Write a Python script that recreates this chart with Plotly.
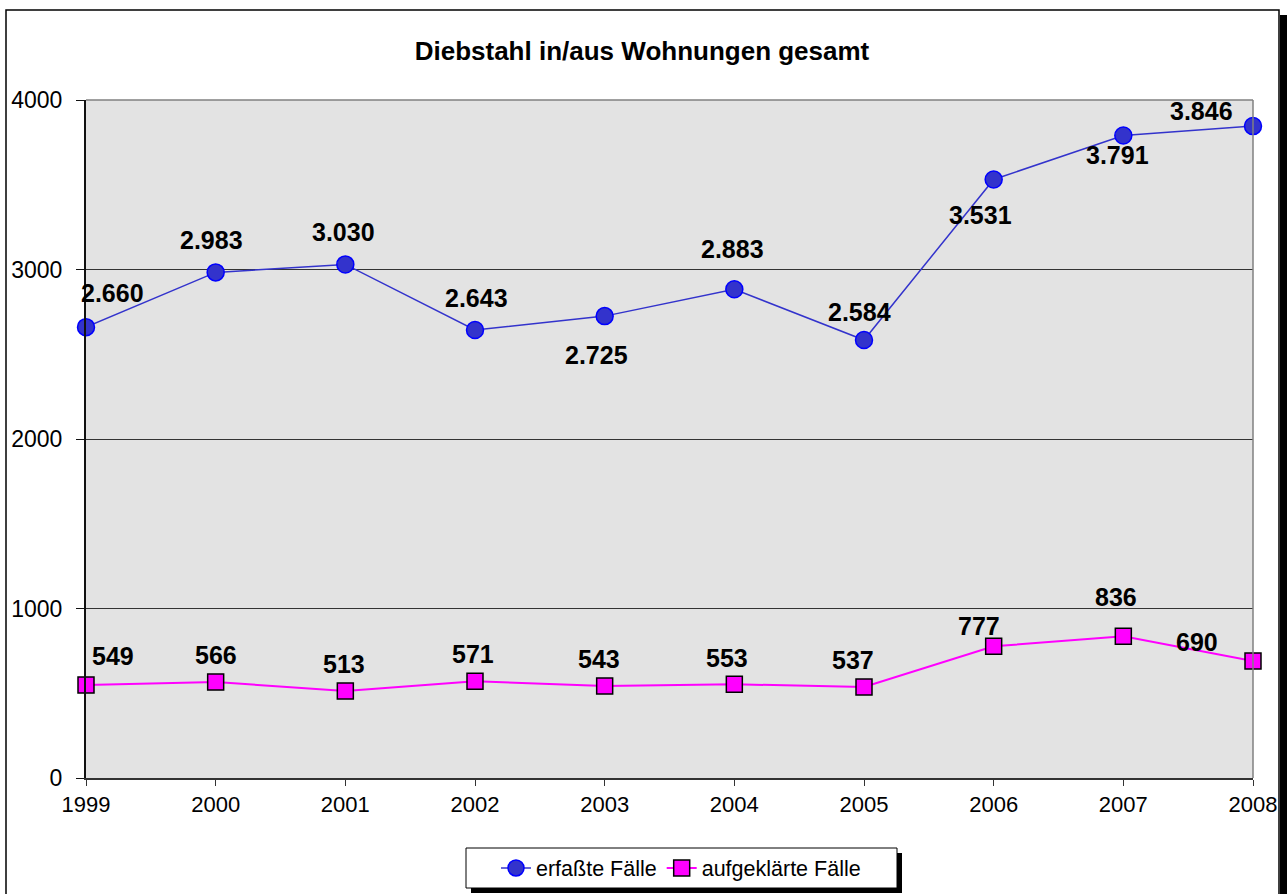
import plotly.graph_objects as go

years = [1999, 2000, 2001, 2002, 2003, 2004, 2005, 2006, 2007, 2008]
erfasst = [2660, 2983, 3030, 2643, 2725, 2883, 2584, 3531, 3791, 3846]
aufgeklaert = [549, 566, 513, 571, 543, 553, 537, 777, 836, 690]
y_ticks = [0, 1000, 2000, 3000, 4000]

# label offsets in pixels (x, y-up)
off_erf = [(26, 34), (-4, 32), (-2, 32), (1, 32), (-8, -39), (-2, 40), (-5, 28), (-13, -35), (-6, -20), (-52, 15)]
off_auf = [(27, 29), (0, 27), (-1, 27), (-2, 27), (-6, 27), (-7, 26), (-11, 27), (-15, 20), (-7, 39), (-56, 19)]

def fmt(v):
    return f"{v:,}".replace(",", ".")

W, H = 1287, 894
L, R, T, B = 86, 34, 100, 116
pw, ph = W - L - R, H - T - B

def px(x):
    return (x - L) / pw

def py(y):
    return (H - B - y) / ph

FONT = "Liberation Sans, Arial"

fig = go.Figure()
fig.add_trace(go.Scatter(
    x=years, y=erfasst, name="erfaßte Fälle", mode="lines+markers",
    line=dict(color="#3333CC", width=1.5),
    marker=dict(symbol="circle", size=17, color="#3333CC", line=dict(color="#0000FF", width=1.5)),
    cliponaxis=False))
fig.add_trace(go.Scatter(
    x=years, y=aufgeklaert, name="aufgeklärte Fälle", mode="lines+markers",
    line=dict(color="#FF00FF", width=2),
    marker=dict(symbol="square", size=16, color="#FF00FF", line=dict(color="#000000", width=1.5)),
    cliponaxis=False))

annotations = []
for series, offs in ((erfasst, off_erf), (aufgeklaert, off_auf)):
    for x, v, (dx, dy) in zip(years, series, offs):
        annotations.append(dict(x=x, y=v, text="<b>" + fmt(v) + "</b>", showarrow=False,
                                xshift=dx, yshift=dy,
                                font=dict(family=FONT, size=25, color="black"),
                                xanchor="center", yanchor="middle"))

shapes = [
    # outer frame
    dict(type="rect", xref="paper", yref="paper", x0=px(6), x1=px(1279), y0=py(910), y1=py(10),
         line=dict(color="black", width=1.5), fillcolor="rgba(0,0,0,0)", layer="below"),
    # frame shadow
    dict(type="rect", xref="paper", yref="paper", x0=px(1280), x1=px(1290), y0=py(910), y1=py(15),
         line=dict(width=0), fillcolor="black", layer="below"),
    # plot area border top/right
    dict(type="line", xref="paper", yref="paper", x0=0, x1=1, y0=1, y1=1, line=dict(color="#808080", width=1.5)),
    dict(type="line", xref="paper", yref="paper", x0=1, x1=1, y0=0, y1=1, line=dict(color="#808080", width=1.5)),
    # legend shadow and box
    dict(type="rect", xref="paper", yref="paper", x0=px(471), x1=px(902), y0=py(893), y1=py(853),
         line=dict(width=0), fillcolor="black", layer="below"),
    dict(type="rect", xref="paper", yref="paper", x0=px(466), x1=px(897), y0=py(888), y1=py(848),
         line=dict(color="black", width=1), fillcolor="white", layer="below"),
]

fig.update_layout(
    width=W, height=H,
    margin=dict(l=L, r=R, t=T, b=B, autoexpand=False),
    paper_bgcolor="white", plot_bgcolor="#E3E3E3",
    title=dict(text="<b>Diebstahl in/aus Wohnungen gesamt</b>", x=642 / W, xanchor="center",
               y=1 - 51 / H, yanchor="middle",
               font=dict(family=FONT, size=26, color="black")),
    font=dict(family=FONT, color="black"),
    xaxis=dict(range=[1999, 2008], tickmode="array", tickvals=years, ticktext=[str(y) for y in years],
               showgrid=False, zeroline=False, showline=True, linecolor="#333333", linewidth=2,
               ticks="outside", ticklen=6, tickcolor="#333333", tickfont=dict(size=22)),
    yaxis=dict(range=[0, 4000], tickmode="array", tickvals=y_ticks, ticktext=[str(t) for t in y_ticks],
               showgrid=True, gridcolor="#333333", gridwidth=1, zeroline=False,
               showline=True, linecolor="#111111", linewidth=2,
               ticks="outside", ticklen=8, tickcolor="#111111", tickfont=dict(size=23),
               ticklabelstandoff=9),
    legend=dict(orientation="h", x=px(681), xanchor="center", y=py(868), yanchor="middle",
                bgcolor="rgba(0,0,0,0)", borderwidth=0,
                font=dict(family=FONT, size=21.5, color="black"),
                itemwidth=30, tracegroupgap=0),
    annotations=annotations,
    shapes=shapes,
    showlegend=True,
)

fig.write_html("out.html", config={"displayModeBar": False},
               post_script="document.body.style.margin='0';document.body.style.overflow='hidden';")
